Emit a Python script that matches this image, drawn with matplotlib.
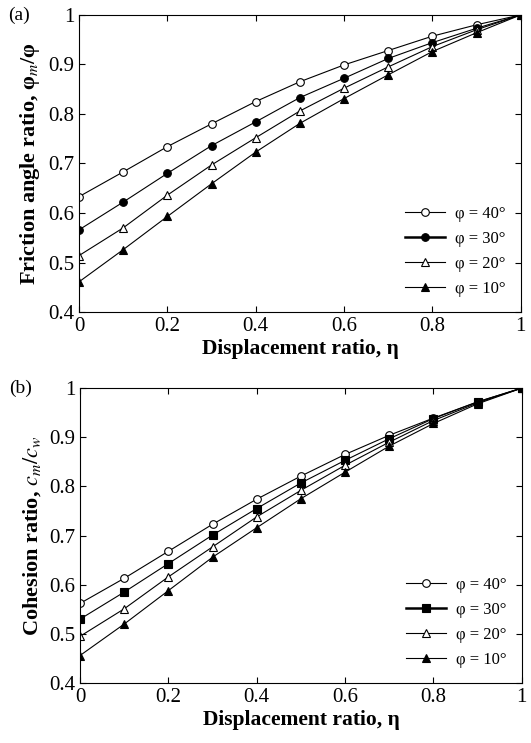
import matplotlib
matplotlib.use("Agg")
import matplotlib.pyplot as plt
from matplotlib.lines import Line2D

plt.rcParams["font.family"] = ["Liberation Serif", "DejaVu Serif"]
plt.rcParams["mathtext.fontset"] = "stix"

eta = [0.0, 0.1, 0.2, 0.3, 0.4, 0.5, 0.6, 0.7, 0.8, 0.9, 1.0]

# panel (a): friction angle ratio
phi_40 = [0.633, 0.683, 0.734, 0.780, 0.825, 0.865, 0.899, 0.928, 0.957, 0.980, 1.0]
phi_30 = [0.566, 0.622, 0.680, 0.736, 0.784, 0.833, 0.872, 0.912, 0.944, 0.973, 1.0]
phi_20 = [0.514, 0.570, 0.636, 0.697, 0.752, 0.806, 0.852, 0.895, 0.936, 0.970, 1.0]
phi_10 = [0.461, 0.526, 0.593, 0.659, 0.723, 0.781, 0.831, 0.879, 0.926, 0.964, 1.0]

# panel (b): cohesion ratio
coh_40 = [0.562, 0.613, 0.668, 0.723, 0.774, 0.821, 0.865, 0.904, 0.939, 0.972, 1.0]
coh_30 = [0.530, 0.585, 0.643, 0.701, 0.755, 0.807, 0.853, 0.897, 0.938, 0.972, 1.0]
coh_20 = [0.495, 0.551, 0.616, 0.677, 0.738, 0.792, 0.843, 0.890, 0.934, 0.970, 1.0]
coh_10 = [0.456, 0.520, 0.588, 0.656, 0.716, 0.775, 0.829, 0.882, 0.928, 0.968, 1.0]

legend_labels = ["φ = 40°", "φ = 30°", "φ = 20°", "φ = 10°"]
x_ticks = [0, 0.2, 0.4, 0.6, 0.8, 1.0]
x_tick_labels = ["0", "0.2", "0.4", "0.6", "0.8", "1"]
y_ticks = [0.4, 0.5, 0.6, 0.7, 0.8, 0.9, 1.0]
y_tick_labels = ["0.4", "0.5", "0.6", "0.7", "0.8", "0.9", "1"]

figure = plt.figure(figsize=(5.31, 7.43), dpi=100)
axis_a = figure.add_axes([0.1488, 0.580, 0.832, 0.400])
axis_b = figure.add_axes([0.1507, 0.0807, 0.832, 0.397])


def draw_panel(axis, series, mid_marker, ylabel, tag):
    styles = [("o", "white"), (mid_marker, "black"), ("^", "white"), ("^", "black")]
    handles = []
    for values, (marker, face), label in zip(series, styles, legend_labels):
        axis.plot(eta, values, color="black", linewidth=0.8, marker=marker,
                  markersize=5.5, markerfacecolor=face, markeredgecolor="black",
                  markeredgewidth=0.8)
        # the 30 deg entry has a heavier line in the legend
        width = 1.8 if face == "black" and marker != "^" else 0.8
        handles.append(Line2D([], [], color="black", linewidth=width, marker=marker,
                              markersize=5.5, markerfacecolor=face,
                              markeredgecolor="black", markeredgewidth=0.8,
                              label=label))
    axis.set_xlim(0, 1)
    axis.set_ylim(0.4, 1)
    axis.set_xticks(x_ticks)
    axis.set_xticklabels(x_tick_labels)
    axis.set_yticks(y_ticks)
    axis.set_yticklabels(y_tick_labels)
    axis.tick_params(direction="in", top=True, right=True, labelsize=15,
                     length=4, width=0.8)
    axis.set_xlabel("Displacement ratio, η", fontsize=15.5, fontweight="bold",
                    labelpad=2)
    axis.set_ylabel(ylabel, fontsize=16, fontweight="bold", labelpad=4)
    axis.legend(handles=handles, loc="lower right", frameon=False, fontsize=12,
                handlelength=2.4, handletextpad=0.6, labelspacing=0.55,
                borderaxespad=0.5)
    axis.text(-0.16, 1.0, tag, transform=axis.transAxes, fontsize=14,
              va="center", ha="left")


draw_panel(axis_a, [phi_40, phi_30, phi_20, phi_10], "o",
           r"Friction angle ratio, φ$_{m}$/φ", "(a)")
draw_panel(axis_b, [coh_40, coh_30, coh_20, coh_10], "s",
           r"Cohesion ratio, $c_{m}/c_{w}$", "(b)")

figure.savefig("out.png", dpi=100)
